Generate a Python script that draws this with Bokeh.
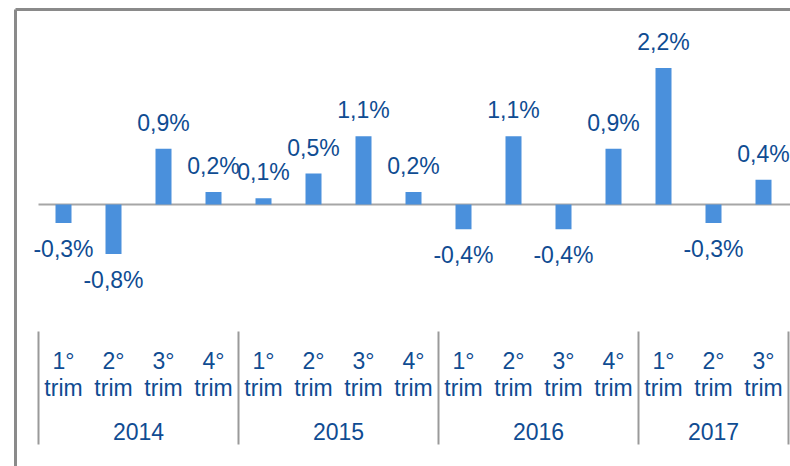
from bokeh.plotting import figure
from bokeh.models import Range1d, ColumnDataSource
from bokeh.core.properties import value
from bokeh.embed import file_html
from bokeh.resources import INLINE

# ---- data ----
years = ["2014", "2015", "2016", "2017"]
quarters_per_year = [4, 4, 4, 3]
quarter_names = ["1°", "2°", "3°", "4°"]
values = [-0.3, -0.8, 0.9, 0.2, 0.1, 0.5, 1.1, 0.2, -0.4, 1.1, -0.4, 0.9, 2.2, -0.3, 0.4]

# ---- style ----
BAR = "#4A90DC"
TXT = "#0F4C92"
FONT = "Liberation Sans"
FS = "23px"
W, H = 790, 466
PX_X = 50.0   # px per category
PX_Y = 62.0   # px per percent point
LEFT_PAD = 63  # px from figure left to first category centre
TOP_PAD = 204  # px from figure top to zero line
DY = -8        # text baseline correction

x0 = -LEFT_PAD / PX_X
y1 = TOP_PAD / PX_Y
p = figure(width=W, height=H, output_backend="svg", toolbar_location=None,
           x_range=Range1d(x0, x0 + W / PX_X), y_range=Range1d(y1 - H / PX_Y, y1),
           min_border=0, min_border_left=0, min_border_right=0,
           min_border_top=0, min_border_bottom=0)
p.axis.visible = False
p.grid.visible = False
p.outline_line_color = None
p.background_fill_color = "white"

xs = list(range(len(values)))
labels = [("%.1f%%" % v).replace(".", ",") for v in values]

# outer frame (left and top edges, extends beyond page)
fx = x0 + 15 / PX_X
fy = y1 - 9 / PX_Y
p.segment(x0=[fx, fx], y0=[fy, fy], x1=[fx, x0 + W / PX_X + 1], y1=[y1 - H / PX_Y - 1, fy],
          line_color="#8a8a8a", line_width=3)

# zero axis
p.segment(x0=[-0.5], y0=[0], x1=[x0 + W / PX_X + 1], y1=[0], line_color="#a6a6a6", line_width=2)

# bars
p.vbar(x=xs, top=values, bottom=0, width=0.32, fill_color=BAR, line_color=None)

# value labels
pos = ColumnDataSource(dict(x=[x for x, v in zip(xs, values) if v >= 0],
                            y=[v for v in values if v >= 0],
                            t=[l for l, v in zip(labels, values) if v >= 0]))
neg = ColumnDataSource(dict(x=[x for x, v in zip(xs, values) if v < 0],
                            y=[v for v in values if v < 0],
                            t=[l for l, v in zip(labels, values) if v < 0]))
common = dict(text="t", text_color=TXT, text_font=value(FONT), text_font_size=FS,
              text_align="center", text_baseline="alphabetic")
p.text(x="x", y="y", source=pos, y_offset=-18 + DY, **common)
p.text(x="x", y="y", source=neg, y_offset=34 + DY, **common)

# category axis: quarter labels, separators, years
qx, qn = [], []
sep_x = [-0.5]
yx = []
i = 0
for y, n in zip(years, quarters_per_year):
    for k in range(n):
        qx.append(i + k)
        qn.append(quarter_names[k])
    yx.append(i + (n - 1) / 2)
    i += n
    sep_x.append(i - 0.5)

lab = dict(text_color=TXT, text_font=value(FONT), text_font_size=FS,
           text_align="center", text_baseline="alphabetic")
p.text(x=qx, y=[0] * len(qx), text=qn, y_offset=164 + DY, **lab)
p.text(x=qx, y=[0] * len(qx), text=["trim"] * len(qx), y_offset=191 + DY, **lab)
p.text(x=yx, y=[0] * len(yx), text=years, y_offset=235 + DY, **lab)

p.segment(x0=sep_x, x1=sep_x, y0=[-127 / PX_Y] * len(sep_x), y1=[-240 / PX_Y] * len(sep_x),
          line_color="#9a9a9a", line_width=2)

open("out.html", "w").write(file_html(p, INLINE))
